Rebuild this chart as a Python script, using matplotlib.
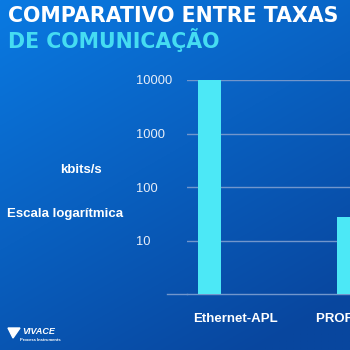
import numpy as np
import matplotlib
matplotlib.use("Agg")
import matplotlib.pyplot as plt
from matplotlib.patches import Polygon
from matplotlib.lines import Line2D

# data
protocols = ['Ethernet-APL', 'PROFIBUS PA']
rates_kbps = [10000, 27]
yticks = [10, 100, 1000, 10000]
ytick_labels = ['10', '100', '1000', '10000']

cyan = '#4ce8f6'
grid_col = '#7196cc'

plt.rcParams['font.family'] = ['Liberation Sans', 'DejaVu Sans']

fig = plt.figure(figsize=(3.5, 3.5), dpi=100)

# blue gradient background
bg = fig.add_axes([0, 0, 1, 1], zorder=-10)
yy, xx = np.mgrid[0:1:200j, 0:1:200j]
t = np.clip(0.4 * xx + 0.7 * yy, 0, 1)
top = np.array([10, 122, 226]) / 255
bot = np.array([8, 70, 158]) / 255
img = top[None, None, :] * (1 - t[..., None]) + bot[None, None, :] * t[..., None]
bg.imshow(img, extent=[0, 1, 0, 1], aspect='auto', origin='upper')
bg.axis('off')

# chart axes (runs past the right edge, like the slide)
ax = fig.add_axes([187 / 350, 56 / 350, 173 / 350, 214 / 350])
ax.patch.set_alpha(0)
x = np.arange(len(protocols))
ax.bar(x, rates_kbps, width=0.169, color=cyan, zorder=3)
ax.set_yscale('log')
ax.set_ylim(1, 10000)
ax.set_xlim(-0.1616, (360 - 209.5) / 139.25)
ax.set_yticks(yticks)
ax.set_yticklabels(ytick_labels, ha='left')
ax.minorticks_off()
ax.tick_params(axis='y', length=0, pad=37, labelsize=9.3, labelcolor='#e8eef8')
ax.set_xticks([])
ax.yaxis.grid(True, color=grid_col, lw=1)
ax.set_axisbelow(True)
for s in ['top', 'right', 'left']:
    ax.spines[s].set_visible(False)
ax.spines['bottom'].set_color(grid_col)
ax.spines['bottom'].set_linewidth(1)
fig.add_artist(Line2D([167 / 350, 187 / 350], [56 / 350, 56 / 350],
                      color=grid_col, lw=1))

# category labels (second one runs off the slide edge, as in the original)
offsets = [-5 - 11.75, -21 - 11.75]
for xi, name, off in zip(x, protocols, offsets):
    ax.annotate(name, (xi, 0), xycoords=('data', 'axes fraction'),
                xytext=(off * 0.72, -25 * 0.72), textcoords='offset points',
                ha='left', va='center', color='white', fontsize=9.5,
                fontweight='bold', annotation_clip=False)

# axis captions
fig.text(80.5 / 350, 1 - 170 / 350, 'kbits/s', color='white', fontsize=9.5,
         fontweight='bold', ha='center', va='center')
fig.text(65.5 / 350, 1 - 214 / 350, 'Escala logarítmica', color='white',
         fontsize=9.5, fontweight='bold', ha='center', va='center')

# title
fig.text(8 / 350, 1 - 16 / 350, 'COMPARATIVO ENTRE TAXAS', color='white',
         fontsize=14.8, fontweight='bold', family='DejaVu Sans',
         ha='left', va='center')
fig.text(8 / 350, 1 - 40 / 350, 'DE COMUNICAÇÃO', color='#45dcf2',
         fontsize=14.8, fontweight='bold', family='DejaVu Sans',
         ha='left', va='center')

# small logo
fig.add_artist(Polygon([[8 / 350, 1 - 328 / 350], [20 / 350, 1 - 328 / 350],
                        [13 / 350, 1 - 338 / 350]], closed=True,
                       color='white'))
fig.text(22 / 350, 1 - 332 / 350, 'VIVACE', color='white', fontsize=6.5,
         fontweight='bold', style='italic', ha='left', va='center')
fig.text(20 / 350, 1 - 340 / 350, 'Process Instruments', color='white',
         fontsize=3, fontweight='bold', ha='left', va='center')

fig.savefig('out.png', dpi=100)
